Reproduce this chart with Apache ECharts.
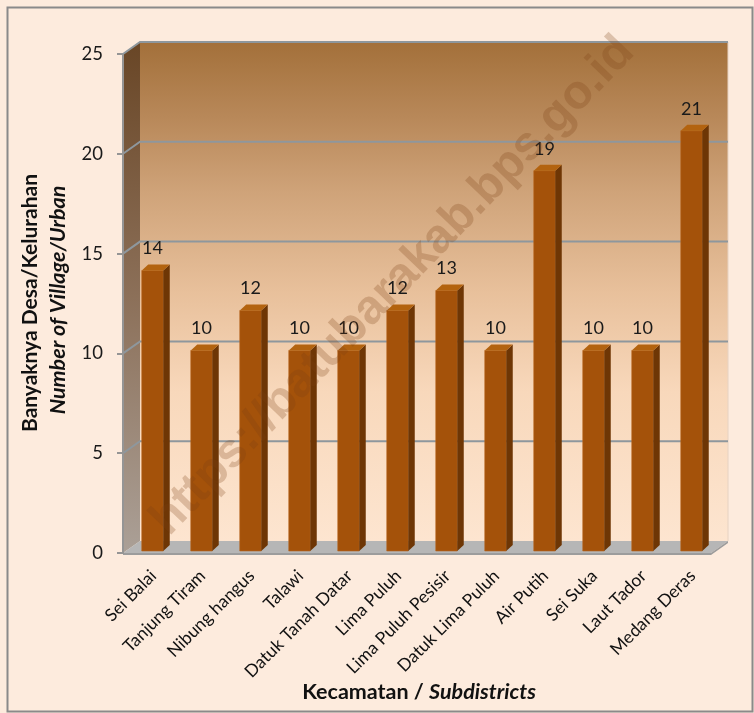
<!DOCTYPE html>
<html>
<head>
<meta charset="utf-8">
<script src="https://cdn.jsdelivr.net/npm/echarts@6/dist/echarts.min.js"></script>
<style>
html,body{margin:0;padding:0;background:#FDEBDD;}
#c{width:754px;height:713px;}
</style>
</head>
<body>
<div id="c"></div>
<script>
const categories = ['Sei Balai','Tanjung Tiram','Nibung hangus','Talawi','Datuk Tanah Datar','Lima Puluh','Lima Puluh Pesisir','Datuk Lima Puluh','Air Putih','Sei Suka','Laut Tador','Medang Deras'];
const values = [14,10,12,10,10,12,13,10,19,10,10,21];
const gridValues = [5,10,15,20,25];
const yTitle1 = 'Banyaknya Desa/Kelurahan';
const yTitle2 = 'Number of Village/Urban';
const xTitle1 = 'Kecamatan / ';
const xTitle2 = 'Subdistricts';
const watermark = 'https://batubarakab.bps.go.id';

const DX = 17, DY = -12;      // wall depth
const BDX = 6.5, BDY = -6;    // bar depth
const FONT = 'Lato, "Noto Sans", sans-serif';

const chart = echarts.init(document.getElementById('c'), null, {renderer:'canvas'});

function wallsItem(params, api){
  const cs = params.coordSys;
  const x0 = cs.x, x1 = cs.x + cs.width;
  const y0 = api.coord([0,0])[1];
  const yTop = api.coord([0,25])[1];
  const children = [];
  children.push({type:'rect', shape:{x:x0+DX, y:yTop+DY, width:cs.width, height:y0-yTop},
    style:{fill:new echarts.graphic.LinearGradient(0,0,0,1,[
      {offset:0,color:'#A3703A'},{offset:0.15,color:'#B88859'},{offset:0.3,color:'#CFA379'},
      {offset:0.5,color:'#E8C09B'},{offset:0.7,color:'#F8D8BB'},{offset:1,color:'#FDE5D0'}])}});
  children.push({type:'line', shape:{x1:x1+DX, y1:yTop+DY, x2:x1+DX, y2:y0+DY}, style:{stroke:'#E6D2C2', lineWidth:1}});
  children.push({type:'polygon', shape:{points:[[x0,yTop],[x0+DX,yTop+DY],[x0+DX,y0+DY],[x0,y0]]},
    style:{fill:new echarts.graphic.LinearGradient(0,0,0,1,[
      {offset:0,color:'#694626'},{offset:0.5,color:'#8C7059'},{offset:1,color:'#ABA097'}])}});
  children.push({type:'polygon', shape:{points:[[x0,y0],[x0+DX,y0+DY],[x1+DX,y0+DY],[x1,y0]]},
    style:{fill:'#B6B6B6'}});
  children.push({type:'polygon', shape:{points:[[x0,y0],[x1,y0],[x1+DX,y0+DY],[x1+DX,y0+DY+2],[x1,y0+2],[x0,y0+2]]},
    style:{fill:'#9C9C9C'}});
  gridValues.forEach(v=>{
    const y = api.coord([0,v])[1];
    children.push({type:'polyline', shape:{points:[[x0,y],[x0+DX,y+DY],[x1+DX,y+DY]]},
      style:{stroke:'#8E979D', lineWidth:2, fill:null}});
  });
  children.push({type:'line', shape:{x1:x0, y1:yTop, x2:x0, y2:y0+1}, style:{stroke:'#959595', lineWidth:2}});
  return {type:'group', children};
}

function barItem(params, api){
  const i = api.value(0), v = api.value(1);
  const p = api.coord([i, v]);
  const p0 = api.coord([i, 0]);
  const cx = p[0] + 5;
  const w = 21.5;
  const xl = cx - w/2, xr = cx + w/2;
  const top = p[1] - 3, bottom = p0[1] - 2;
  return {type:'group', children:[
    {type:'rect', shape:{x:xl, y:top, width:w, height:bottom-top}, style:{fill:'#A4520A', stroke:'#B8661E', lineWidth:0.6}},
    {type:'polygon', shape:{points:[[xr,top],[xr+BDX,top+BDY],[xr+BDX,bottom+BDY],[xr,bottom]]}, style:{fill:'#6E3605'}},
    {type:'polygon', shape:{points:[[xl,top],[xl+BDX,top+BDY],[xr+BDX,top+BDY],[xr,top]]}, style:{fill:'#B3630F'}},
    {type:'text', x:cx, y:top-22, style:{text:String(v), font:'18px '+FONT, fill:'#1a1a1a', align:'center', verticalAlign:'middle'}},
    {type:'text', x:cx+1, y:p0[1]+20, rotation:Math.PI/4,
      style:{text:categories[i], font:'17.5px '+FONT, fill:'#111', align:'right', verticalAlign:'middle'}}
  ]};
}

const option = {
  backgroundColor:'#FDEBDD',
  animation:false,
  grid:{left:123, right:43, top:54, bottom:160},
  xAxis:{type:'category', data:categories,
    axisLine:{show:false}, axisTick:{show:false}, axisLabel:{show:false}},
  yAxis:{type:'value', min:0, max:25, interval:5,
    axisLine:{show:false},
    axisTick:{show:true, length:6, lineStyle:{color:'#959595', width:2}},
    splitLine:{show:false},
    axisLabel:{margin:20, fontSize:18.5, fontFamily:FONT, color:'#1a1a1a'}},
  series:[
    {type:'custom', name:'walls', renderItem:wallsItem, data:[[0,0]], encode:{x:0,y:1}, z:1, silent:true},
    {type:'custom', name:'bars', renderItem:barItem, data:values.map((v,i)=>[i,v]), encode:{x:0,y:1}, z:3}
  ],
  graphic:[
    {type:'rect', left:5, top:5, shape:{width:745, height:704}, style:{fill:null, stroke:'#8A8A8A', lineWidth:2}, z:100},
    {type:'text', x:30, y:303, rotation:Math.PI/2, style:{text:yTitle1, font:'bold 21px '+FONT, fill:'#111', align:'center', verticalAlign:'middle'}},
    {type:'text', x:58, y:300, rotation:Math.PI/2, style:{text:yTitle2, font:'italic bold 21.5px '+FONT, fill:'#111', align:'center', verticalAlign:'middle'}},
    {type:'text', x:419, y:692, style:{
      text:'{a|'+xTitle1+'}{b|'+xTitle2+'}',
      rich:{a:{font:'bold 21.5px '+FONT, fill:'#111'}, b:{font:'italic bold 21.5px '+FONT, fill:'#111'}},
      align:'center', verticalAlign:'middle'}},
    {type:'text', x:393, y:286, rotation:46*Math.PI/180, z:50, style:{text:watermark, font:'bold 48px "Liberation Sans", Arial, sans-serif', fill:'rgba(125,62,20,0.25)', align:'center', verticalAlign:'middle'}}
  ]
};
chart.setOption(option);
</script>
</body>
</html>
